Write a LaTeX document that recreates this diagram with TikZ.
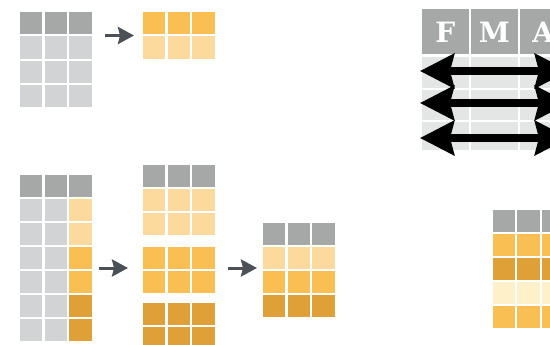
\documentclass[tikz,border=0pt]{standalone}
\usepackage{fontspec}
\newfontfamily\slabfont{DejaVu Serif}
\usetikzlibrary{arrows.meta}
\definecolor{hdr}{HTML}{A6A8A7}
\definecolor{lgray}{HTML}{D1D3D4}
\definecolor{vlgray}{HTML}{E4E5E5}
\definecolor{org}{HTML}{F9BF52}
\definecolor{lorg}{HTML}{FCDA9D}
\definecolor{dorg}{HTML}{E0A038}
\definecolor{porg}{HTML}{FEF0C8}
\definecolor{arrgray}{HTML}{4C5057}
\tikzset{
  smallarrow/.style={draw=arrgray, line width=3pt, -{Stealth[length=16pt, width=17pt, inset=2pt]}},
  bigarrow/.style={draw=black, line width=8pt, {Stealth[length=34pt, width=34pt, inset=4pt]}-{Stealth[length=34pt, width=34pt, inset=4pt]}},
  hdrtext/.style={text=white, font=\slabfont\bfseries\fontsize{28}{28}\selectfont, anchor=center, inner sep=0pt}
}
% \gridrow{x0}{y}{colour}: three cells in a row
\newcommand{\gridrow}[3]{%
  \foreach \i in {0,1,2} {
    \fill[#3] ({#1+\i*24.6},{#2}) rectangle ++(22.4,22.2);
  }}
\begin{document}
\begin{tikzpicture}[x=1pt, y=-1pt]
\useasboundingbox (0,0) rectangle (550,345);

% top left
\gridrow{20}{12}{hdr}
\gridrow{20}{36.5}{lgray}
\gridrow{20}{60.8}{lgray}
\gridrow{20}{84.8}{lgray}
\coordinate (a1s) at (105,35.5);
\coordinate (a1e) at (134,35.5);
\draw[smallarrow] (a1s) -- (a1e);
\gridrow{143}{12}{org}
\gridrow{143}{36.5}{lorg}

% bottom left
\gridrow{20}{175}{hdr}
\foreach \r/\c in {1/lorg,2/lorg,3/org,4/org,5/dorg,6/dorg} {
  \fill[lgray] (20,{175+\r*24}) rectangle ++(22.4,22.2);
  \fill[lgray] (44.6,{175+\r*24}) rectangle ++(22.4,22.2);
  \fill[\c] (69.2,{175+\r*24}) rectangle ++(22.4,22.2);
}
\coordinate (a2s) at (99,268);
\coordinate (a2e) at (128,268);
\draw[smallarrow] (a2s) -- (a2e);

% middle groups
\gridrow{143}{165}{hdr}
\gridrow{143}{189}{lorg}
\gridrow{143}{213}{lorg}
\gridrow{143}{247}{org}
\gridrow{143}{271}{org}
\gridrow{143}{303}{dorg}
\gridrow{143}{327}{dorg}

\coordinate (a3s) at (228,268);
\coordinate (a3e) at (257,268);
\draw[smallarrow] (a3s) -- (a3e);

% result
\gridrow{263}{223}{hdr}
\gridrow{263}{247}{lorg}
\gridrow{263}{271}{org}
\gridrow{263}{295}{dorg}

% bottom right
\gridrow{492.7}{210}{hdr}
\gridrow{492.7}{234}{org}
\gridrow{492.7}{258}{dorg}
\gridrow{492.7}{282}{porg}
\gridrow{492.7}{306}{org}

% FMA table
\foreach \i/\t in {0/F,1/M,2/A} {
  \fill[hdr] ({422+\i*49},9) rectangle ++(46.5,45);
  \node[hdrtext] (h\t) at ({422+\i*49+23.25},32) {\t};
  \fill[vlgray] ({422+\i*49},57) rectangle ++(46.5,31);
  \fill[vlgray] ({422+\i*49},90) rectangle ++(46.5,30);
  \fill[vlgray] ({422+\i*49},122) rectangle ++(46.5,28);
}
\foreach \k/\yy in {1/71,2/103,3/138} {
  \coordinate (L\k) at (420,\yy);
  \coordinate (R\k) at (569,\yy);
  \draw[bigarrow] (L\k) -- (R\k);
}
\end{tikzpicture}
\end{document}
